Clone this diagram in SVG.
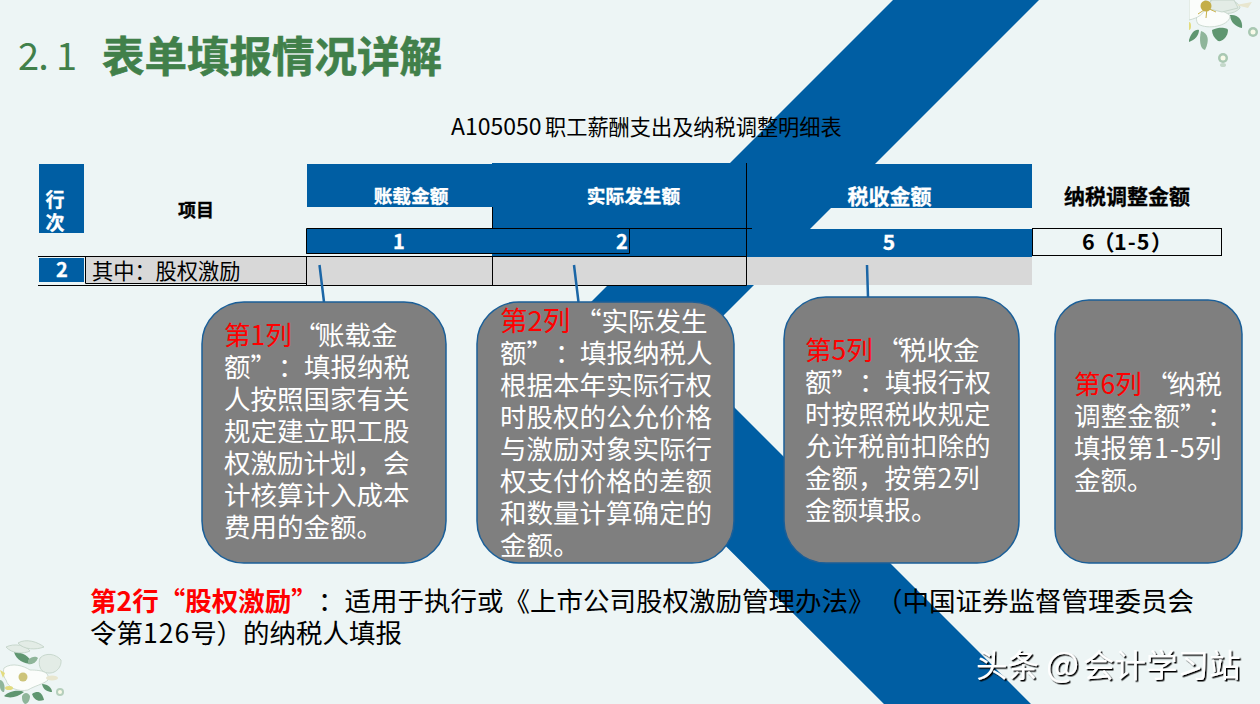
<svg xmlns="http://www.w3.org/2000/svg" width="1260" height="704" viewBox="0 0 1260 704">
<style>
text{font-family:"Noto Sans CJK SC","Noto Sans",sans-serif}
.blue{fill:#005ea3}
.gray{fill:#d8d8d8}
.ln{stroke:#000;stroke-width:1;fill:none}
.hw{fill:#fff;font-weight:700;text-anchor:middle;stroke:#fff;stroke-width:.3}
.hb{fill:#000;font-weight:700;text-anchor:middle;stroke:#000;stroke-width:.3}
.card{fill:#7f7f7f;stroke:#1b5f98;stroke-width:1.5}
.ct{fill:#fff;font-size:26.500px}
.red{fill:#f00}
.sp{letter-spacing:1px}
.conn{stroke:#1b66a6;stroke-width:2.500;fill:none}
.body{font-size:26.500px;fill:#000}
.pet{fill:#fbfdfb;stroke:#c3d3c8;stroke-width:.8}
.pet2{fill:#e3ece6;stroke:#bfd0c4;stroke-width:.8}
.leaf{fill:#8fb59a}
.leaf2{fill:#5f9670}
</style>
<defs>
<filter id="soft" x="-20%" y="-20%" width="140%" height="140%"><feGaussianBlur stdDeviation="0.5"/></filter>
<filter id="wm" x="-5%" y="-20%" width="110%" height="140%"><feDropShadow dx="1.500" dy="1.500" stdDeviation="0.300" flood-color="#000"/></filter>
<clipPath id="tr"><rect x="1189" y="0" width="71" height="75"/></clipPath>
</defs>
<rect width="1260" height="704" fill="#edf5f5"/>
<polygon class="blue" points="893,0 1039,0 683,356 1031,704 884,704 536,357"/>

<g id="flower-top" clip-path="url(#tr)"><g filter="url(#soft)">
<path class="leaf2" d="M1189 40C1191 33 1195 29 1199 30C1199 35 1195 40 1189 42Z"/>
<path class="leaf" d="M1201 31C1208 33 1210 40 1205 50C1200 49 1199 40 1201 31Z"/>
<path class="leaf2" d="M1212 30C1220 26 1228 28 1228 30C1228 37 1222 42 1218 41C1214 38 1212 34 1212 30Z"/>
<path class="leaf2" d="M1230 15C1238 14 1243 20 1242 28C1236 27 1230 22 1230 15Z"/>
<path class="pet2" d="M1210 -4C1225 -4 1240 2 1240 8C1234 15 1222 15 1212 10Z"/>
<path class="pet" d="M1205 8C1213 8 1230 12 1230 17C1228 26 1208 30 1198 24C1194 18 1198 10 1205 8Z"/>
<path class="pet" d="M1189 -2H1205V8C1204 14 1198 18 1189 20Z"/>
<path class="pet2" d="M1212 0L1205 8L1222 12L1238 8L1234 0Z"/>
<path d="M1207 8L1198 14M1207 8L1206 18M1207 8L1216 12" stroke="#c8b14a" stroke-width="1" fill="none"/>
<circle cx="1206" cy="6" r="5.500" fill="#c4ae4a"/>
<ellipse cx="1189" cy="26" rx="2" ry="4" fill="#e3dc7e"/>
<path d="M1236 5L1252 2L1248 8Z" fill="#e8e6cf"/>
<circle cx="1223" cy="58" r="5" fill="#a9c8b2"/><circle cx="1223" cy="58" r="2.500" fill="#f8fae8"/><ellipse cx="1223" cy="65" rx="3" ry="2" fill="#c4d8ca"/>
<circle cx="1253" cy="32" r="5" fill="#a9c8b2"/><circle cx="1253" cy="32" r="2.500" fill="#f8fae8"/>
</g></g>
<g id="flower-bottom" filter="url(#soft)">
<path class="leaf2" d="M14 652C22 652 30 656 32 664C24 664 16 660 14 652Z"/>
<path class="leaf" d="M28 660C32 656 36 656 38 658C36 663 32 665 28 664Z"/>
<path class="leaf2" d="M4 696C10 690 20 690 24 692C18 697 10 699 4 696Z"/>
<path class="leaf" d="M22 696C24 692 28 692 30 696C30 700 28 704 25 704C22 702 22 699 22 696Z"/>
<path class="leaf2" d="M32 694C38 690 42 692 44 700C38 702 34 700 32 694Z"/>
<path class="leaf2" d="M42 684C48 684 52 688 52 692C48 692 43 690 42 684Z"/>
<path class="leaf" d="M0 680C3 680 6 686 4 692C2 692 0 690 0 686Z"/>
<path class="pet2" d="M6 647C14 643 26 645 30 651C24 654 12 654 6 647Z"/>
<path class="pet2" d="M18 643C26 638 38 642 44 647C36 650 24 650 18 643Z"/>
<path class="pet2" d="M40 658C46 652 56 654 61 660C62 668 54 676 44 672C40 670 38 664 40 658Z"/>
<path class="pet" d="M4 668C12 662 24 666 30 670C42 670 50 672 48 680C44 684 34 686 28 690C18 692 8 688 6 680C3 676 3 672 4 668Z"/>
<circle cx="23" cy="677" r="4.500" fill="#cdc47a"/>
<path d="M0 670L5 673L3 678Z" fill="#e3dc7e"/><ellipse cx="9" cy="688" rx="4" ry="2" fill="#e3dc7e"/>
<ellipse cx="52" cy="678" rx="6" ry="2.500" fill="#e8e6cf"/>
<circle cx="60" cy="692" r="4" fill="#b5cfbc"/><circle cx="60" cy="692" r="2" fill="#f8fae8"/>
</g>

<g id="table">
<rect class="blue" x="39" y="164" width="45" height="69"/>
<rect class="blue" x="307" y="164" width="186" height="43"/>
<rect class="blue" x="492" y="163" width="254" height="94"/>
<rect class="blue" x="746" y="164" width="286" height="44"/>
<rect class="blue" x="306" y="229" width="186" height="25"/>
<polygon class="blue" points="746,208 811,208 790,229 746,229"/>
<rect class="blue" x="746" y="229" width="286" height="28"/>
<rect class="blue" x="39" y="258" width="45" height="24"/>
<rect class="gray" x="307" y="257" width="439" height="28"/>
<rect class="gray" x="746" y="257" width="286" height="28"/>
<rect class="gray" x="85.500" y="257" width="221" height="26"/>
<path class="ln" d="M38 256.500H746.500M38 285.500H746.500M85.500 257V283.500H306.500M306.500 228.500H752M306.500 228.500V253.500H629.500V228.500M306.500 256.500V285.500M492.500 207V228.500M492.500 256.500V285.500M746.500 163V285.500"/>
<rect x="1032.500" y="228.500" width="189" height="27" fill="#edf5f5" stroke="#000"/>
</g>
<g id="table-text">
<text x="451" y="135" font-size="21.200" fill="#000"><tspan font-size="23">A105050</tspan><tspan x="545">职工薪酬支出及纳税调整明细表</tspan></text>
<text class="hw" x="55" y="207" font-size="19">行</text>
<text class="hw" x="55" y="230" font-size="19">次</text>
<text class="hb" x="196" y="217" font-size="18">项目</text>
<text class="hw" x="411" y="203" font-size="18.700">账载金额</text>
<text class="hw" x="633.500" y="203" font-size="18.700">实际发生额</text>
<text class="hw" x="889.500" y="204" font-size="21">税收金额</text>
<text class="hb" x="1127" y="204" font-size="21">纳税调整金额</text>
<text class="hw" x="399" y="249" font-size="20">1</text>
<text class="hw" x="622" y="249" font-size="20">2</text>
<text class="hw" x="889" y="250" font-size="21">5</text>
<text x="1082" y="250" font-size="21.500" font-weight="700" fill="#000">6<tspan x="1093">（</tspan><tspan x="1114" letter-spacing="1px">1-5</tspan><tspan x="1151">）</tspan></text>
<text class="hw" x="62" y="277" font-size="20">2</text>
<text x="92" y="279" font-size="21.200" fill="#000">其中：股权激励</text>
</g>

<g id="connectors">
<path class="conn" d="M319.500 265L324 302M574 265L578.500 302M867 265L868 297"/>
</g>

<g id="node-col1">
<rect class="card" x="202" y="302" width="244" height="261" rx="42"/>
<text class="ct"><tspan class="red" x="224" y="345">第1列</tspan><tspan x="294" y="345">“</tspan><tspan x="318" y="345">账载金</tspan><tspan x="224" y="377">额”</tspan><tspan x="278" y="377">：</tspan><tspan x="304" y="377">填报纳税</tspan><tspan x="224" y="409">人按照国家有关</tspan><tspan x="224" y="441">规定建立职工股</tspan><tspan x="224" y="473">权激励计划，会</tspan><tspan x="224" y="505">计核算计入成本</tspan><tspan x="224" y="537">费用的金额。</tspan></text>
</g>
<g id="node-col2">
<rect class="card" x="477" y="302" width="257" height="261" rx="42"/>
<text class="ct"><tspan class="red" x="500" y="331" font-size="27.500">第2列</tspan><tspan x="575" y="331">“实际发生</tspan><tspan x="500" y="363">额”</tspan><tspan x="555" y="363">：</tspan><tspan x="580" y="363">填报纳税人</tspan><tspan x="500" y="395">根据本年实际行权</tspan><tspan x="500" y="427">时股权的公允价格</tspan><tspan x="500" y="459">与激励对象实际行</tspan><tspan x="500" y="491">权支付价格的差额</tspan><tspan x="500" y="523">和数量计算确定的</tspan><tspan x="500" y="555">金额。</tspan></text>
</g>
<g id="node-col5">
<rect class="card" x="784" y="297" width="235" height="266" rx="42"/>
<text class="ct"><tspan class="red" x="805" y="360">第5列</tspan><tspan x="877" y="360">“</tspan><tspan x="900" y="360">税收金</tspan><tspan x="805" y="392">额”</tspan><tspan x="859" y="392">：</tspan><tspan x="885" y="392">填报行权</tspan><tspan x="805" y="424">时按照税收规定</tspan><tspan x="805" y="456">允许税前扣除的</tspan><tspan x="805" y="488">金额，按第<tspan class="sp">2</tspan>列</tspan><tspan x="805" y="520">金额填报。</tspan></text>
</g>
<g id="node-col6">
<rect class="card" x="1055" y="300" width="187" height="263" rx="34"/>
<text class="ct"><tspan class="red" x="1074" y="394">第6列</tspan><tspan x="1146" y="394">“</tspan><tspan x="1169" y="394">纳税</tspan><tspan x="1074" y="426">调整金额”</tspan><tspan x="1207" y="426">：</tspan><tspan x="1074" y="458">填报第</tspan><tspan class="sp" x="1154" y="458">1-5</tspan><tspan x="1195" y="458">列</tspan><tspan x="1074" y="490">金额。</tspan></text>
</g>

<g id="title">
<text x="18" y="70" font-size="38" fill="#41804a" font-family="Liberation Sans" textLength="59" lengthAdjust="spacing">2. 1</text>
<text x="102" y="72" font-size="42.500" font-weight="700" fill="#41804a" stroke="#41804a" stroke-width=".6">表单填报情况详解</text>
</g>
<g id="note">
<text class="body"><tspan class="red" font-weight="700" x="90" y="611">第2行“股权激励”</tspan><tspan x="318" y="611">：适用于执行或《上市公司股权激励管理办法》</tspan><tspan x="876" y="611">（中国证券监督管理委员会</tspan><tspan x="90" y="643">令第<tspan letter-spacing="1px">126</tspan>号）的纳税人填报</tspan></text>
</g>
<text id="watermark" y="677" font-size="31.500" fill="#fff" filter="url(#wm)"><tspan x="976">头条</tspan><tspan x="1046" font-size="35">@</tspan><tspan x="1083">会计学习站</tspan></text>
</svg>
